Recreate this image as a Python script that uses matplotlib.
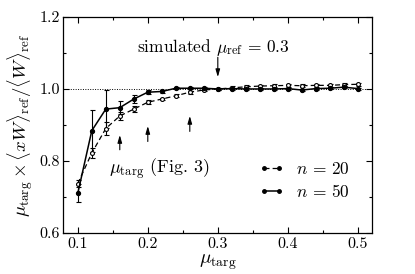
"""Ratio mu_targ * <xW>_ref / <W>_ref versus mu_targ for two ensemble sizes."""

import matplotlib
matplotlib.use("Agg")
import matplotlib.pyplot as plt
from matplotlib.lines import Line2D
from matplotlib.ticker import MultipleLocator

plt.rcParams["font.family"] = "serif"
plt.rcParams["font.serif"] = ["cmr10"]
plt.rcParams["mathtext.fontset"] = "cm"
plt.rcParams["axes.formatter.use_mathtext"] = True

mu_targ = [0.10, 0.12, 0.14, 0.16, 0.18, 0.20, 0.22, 0.24, 0.26, 0.28, 0.30,
           0.32, 0.34, 0.36, 0.38, 0.40, 0.42, 0.44, 0.46, 0.48, 0.50]

ratio_n20 = [0.737, 0.822, 0.890, 0.925, 0.944, 0.963, 0.972, 0.981, 0.991, 0.997, 1.000,
             1.003, 1.006, 1.008, 1.009, 1.010, 1.009, 1.010, 1.010, 1.012, 1.013]
err_n20 = [0.010, 0.015, 0.018, 0.012, 0.008, 0.005, 0.004, 0.004, 0.004, 0.004, 0.004,
           0.004, 0.004, 0.004, 0.004, 0.004, 0.004, 0.004, 0.004, 0.004, 0.004]

ratio_n50 = [0.710, 0.884, 0.944, 0.948, 0.972, 0.991, 0.993, 1.002, 1.002, 1.002, 1.000,
             1.001, 1.000, 1.000, 1.000, 1.001, 0.997, 1.001, 1.002, 1.005, 1.001]
err_n50 = [0.025, 0.058, 0.052, 0.018, 0.012, 0.006, 0.004, 0.003, 0.003, 0.003, 0.003,
           0.003, 0.003, 0.003, 0.003, 0.003, 0.003, 0.003, 0.003, 0.003, 0.003]

# mu_targ values used in Fig. 3 (arrows pointing up)
fig3_mu = [0.16, 0.20, 0.26]
fig3_tail = [0.831, 0.854, 0.882]
fig3_head = [0.872, 0.897, 0.925]

mu_ref = 0.3

fig = plt.figure(figsize=(4.15, 2.74), dpi=100)
ax = fig.add_axes([0.152, 0.150, 0.744, 0.788])

ax.axhline(1.0, color="black", linestyle=(0, (1, 1.5)), linewidth=0.7, zorder=1)

dash20 = (0, (4, 2.5))
ax.errorbar(mu_targ, ratio_n20, yerr=err_n20, color="black", linestyle=dash20,
            linewidth=0.9, marker="o", markersize=2.8, markerfacecolor="white",
            markeredgewidth=0.8, elinewidth=0.8, capsize=1.8, capthick=0.8)
ax.errorbar(mu_targ, ratio_n50, yerr=err_n50, color="black", linestyle="-",
            linewidth=1.1, marker="o", markersize=2.8, elinewidth=0.8,
            capsize=1.8, capthick=0.8)

arrow = dict(arrowstyle="-|>,head_length=0.45,head_width=0.13", color="black",
             lw=0.8, shrinkA=0, shrinkB=0)
for x, y0, y1 in zip(fig3_mu, fig3_tail, fig3_head):
    ax.annotate("", xy=(x, y1), xytext=(x, y0), arrowprops=arrow)
ax.annotate("", xy=(mu_ref, 1.033), xytext=(mu_ref, 1.088), arrowprops=arrow)

ax.text(0.293, 1.114, r"simulated $\mu_{\rm ref}\,=\,0.3$", ha="center", va="center",
        fontsize=12.5)
ax.text(0.217, 0.780, r"$\mu_{\rm targ}$ (Fig. 3)", ha="center", va="center",
        fontsize=13)

handles = [
    Line2D([], [], color="black", linestyle=dash20, linewidth=0.9, marker="o",
           markersize=2.5, label=r"$n\,=\,20$"),
    Line2D([], [], color="black", linestyle="-", linewidth=1.1, marker="o",
           markersize=2.5, label=r"$n\,=\,50$"),
]
ax.legend(handles=handles, loc="center left", bbox_to_anchor=(0.612, 0.243),
          borderaxespad=0, frameon=False, fontsize=12.5, handlelength=1.45,
          numpoints=2, labelspacing=0.35, handletextpad=0.7)

ax.set_xlim(0.079, 0.52)
ax.set_ylim(0.6, 1.2)
ax.xaxis.set_major_locator(MultipleLocator(0.1))
ax.xaxis.set_minor_locator(MultipleLocator(0.05))
ax.yaxis.set_major_locator(MultipleLocator(0.2))
ax.yaxis.set_minor_locator(MultipleLocator(0.1))
ax.xaxis.set_major_formatter(plt.FuncFormatter(lambda v, p: f"{v:.1f}"))
ax.yaxis.set_major_formatter(plt.FuncFormatter(lambda v, p: f"{v:.1f}"))
ax.tick_params(which="both", direction="in", top=True, right=True, labelsize=11.5)
ax.tick_params(axis="y", which="major", pad=2.5)
ax.tick_params(which="major", length=4, width=0.8)
ax.tick_params(which="minor", length=2.5, width=0.8)
for s in ax.spines.values():
    s.set_linewidth(0.9)

ax.set_xlabel(r"$\mu_{\rm targ}$", fontsize=14, labelpad=1)
ax.set_ylabel(r"$\mu_{\rm targ} \times \langle xW\rangle_{\rm ref}/\langle W\rangle_{\rm ref}$",
              fontsize=13.5, labelpad=3)

fig.savefig("out.png", dpi=100)
